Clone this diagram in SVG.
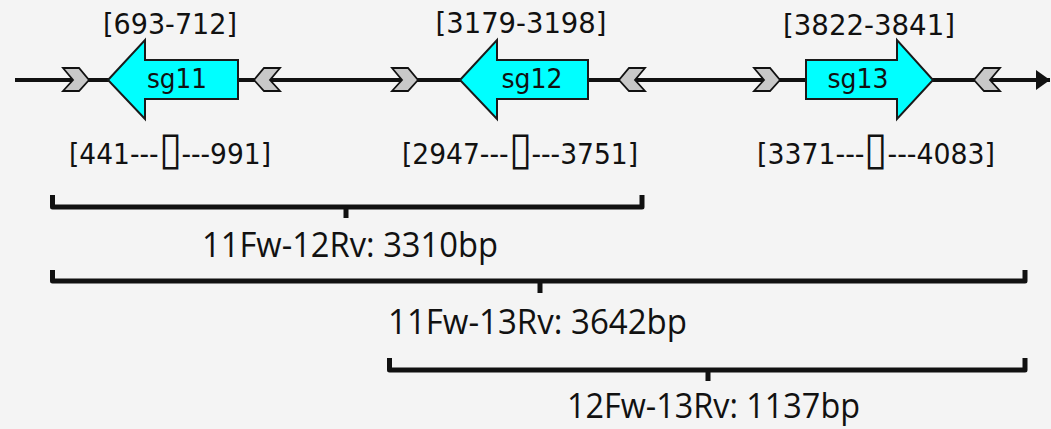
<svg xmlns="http://www.w3.org/2000/svg" width="1051" height="429" viewBox="0 0 1051 429">
<style>
.lbl{font-family:"DejaVu Sans","Verdana",sans-serif;font-size:29px;fill:#111;text-anchor:middle}
.box{font-size:46px;font-weight:300}
.sg{font-family:"DejaVu Sans","Verdana",sans-serif;font-size:26px;fill:#111;text-anchor:middle}
.amp{font-family:"Open Sans","Liberation Sans",sans-serif;font-size:34px;fill:#111;text-anchor:middle}
.arrow{fill:#00ffff;stroke:#1a1a1a;stroke-width:2;stroke-linejoin:miter}
.chev{fill:#c8c8c8;stroke:#111;stroke-width:1.8;stroke-linejoin:miter}
.brk{fill:none;stroke:#111;stroke-width:5;stroke-linejoin:round;stroke-linecap:butt}
</style>
<defs>
<marker id="endArrow" markerWidth="14" markerHeight="20" refX="14" refY="10" orient="auto" markerUnits="userSpaceOnUse">
<path d="M0,0 L14,10 L0,20 Z" fill="#111"/>
</marker>
</defs>
<rect x="0" y="0" width="1051" height="429" fill="#f4f4f4"/>
<g id="connectors">
<line x1="15" y1="80" x2="1050" y2="80" stroke="#111" stroke-width="4" marker-end="url(#endArrow)"/>
<path class="brk" d="M52.5,195 V207 H642 V195 M346,207 V218"/>
<path class="brk" d="M52.5,270 V281 H1025 V270 M540,281 V293"/>
<path class="brk" d="M389.5,358 V370 H1025 V358 M708,370 V381"/>
</g>
<g id="chevrons">
<polygon class="chev" points="63,68 79,68 89,80 79,91 63,91 73,80"/>
<polygon class="chev" points="280,68 264,68 254,80 264,91 280,91 270,80"/>
<polygon class="chev" points="392,68 408,68 418,80 408,91 392,91 402,80"/>
<polygon class="chev" points="645,68 629,68 619,80 629,91 645,91 635,80"/>
<polygon class="chev" points="754,68 770,68 780,80 770,91 754,91 764,80"/>
<polygon class="chev" points="1000,68 984,68 974,80 984,91 1000,91 990,80"/>
</g>
<g id="sg11">
<polygon class="arrow" points="108,80 145,40 145,60 238,60 238,99 145,99 145,119"/>
<text class="sg" x="177" y="88" textLength="60" lengthAdjust="spacingAndGlyphs">sg11</text>
<text class="lbl" x="170" y="34" textLength="134" lengthAdjust="spacingAndGlyphs">[693-712]</text>
<text class="lbl" x="170" y="164" textLength="202" lengthAdjust="spacingAndGlyphs">[441---<tspan class="box">▯</tspan>---991]</text>
</g>
<g id="sg12">
<polygon class="arrow" points="460,80 497,40 497,60 588,60 588,99 497,99 497,119"/>
<text class="sg" x="532" y="88" textLength="61" lengthAdjust="spacingAndGlyphs">sg12</text>
<text class="lbl" x="521" y="33" textLength="171" lengthAdjust="spacingAndGlyphs">[3179-3198]</text>
<text class="lbl" x="520" y="164" textLength="236" lengthAdjust="spacingAndGlyphs">[2947---<tspan class="box">▯</tspan>---3751]</text>
</g>
<g id="sg13">
<polygon class="arrow" points="806,60 897,60 897,40 933,80 897,119 897,99 806,99"/>
<text class="sg" x="858" y="88" textLength="61" lengthAdjust="spacingAndGlyphs">sg13</text>
<text class="lbl" x="869" y="35" textLength="172" lengthAdjust="spacingAndGlyphs">[3822-3841]</text>
<text class="lbl" x="876" y="164" textLength="238" lengthAdjust="spacingAndGlyphs">[3371---<tspan class="box">▯</tspan>---4083]</text>
</g>
<g id="amplicons">
<text class="amp" x="350" y="257" textLength="296" lengthAdjust="spacingAndGlyphs">11Fw-12Rv: 3310bp</text>
<text class="amp" x="537.5" y="334" textLength="299" lengthAdjust="spacingAndGlyphs">11Fw-13Rv: 3642bp</text>
<text class="amp" x="713.5" y="418" textLength="293" lengthAdjust="spacingAndGlyphs">12Fw-13Rv: 1137bp</text>
</g>
</svg>
